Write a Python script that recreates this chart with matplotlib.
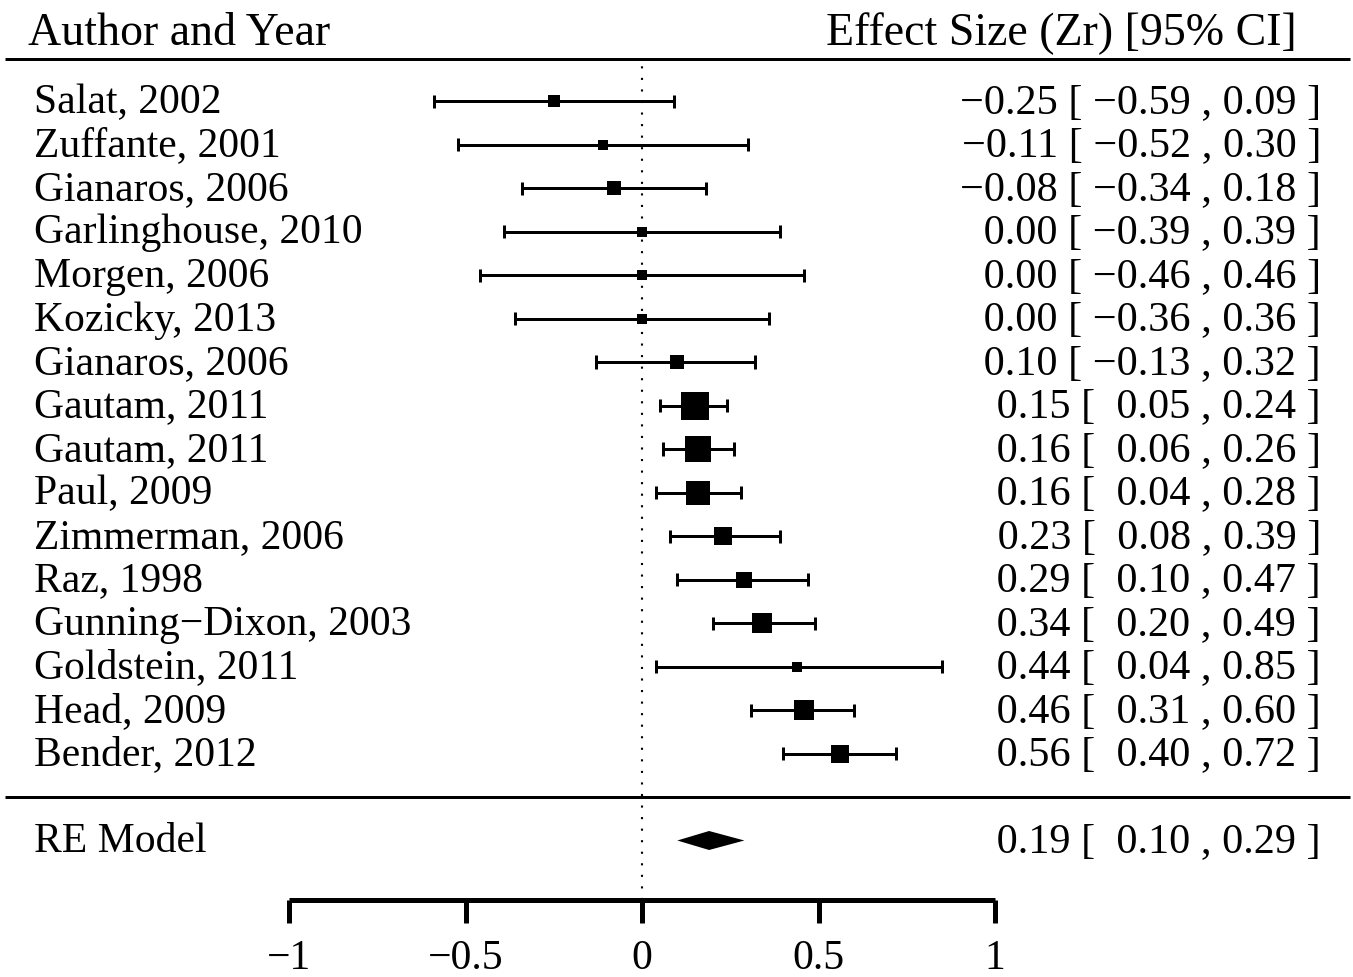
import matplotlib
matplotlib.use("Agg")
import matplotlib.pyplot as plt
import numpy as np

# ---------------- data ----------------
authors = ["Salat, 2002", "Zuffante, 2001", "Gianaros, 2006", "Garlinghouse, 2010",
           "Morgen, 2006", "Kozicky, 2013", "Gianaros, 2006", "Gautam, 2011",
           "Gautam, 2011", "Paul, 2009", "Zimmerman, 2006", "Raz, 1998",
           "Gunning\u2212Dixon, 2003", "Goldstein, 2011", "Head, 2009", "Bender, 2012"]
est = [-0.25, -0.11, -0.08, 0.00, 0.00, 0.00, 0.10, 0.15, 0.16, 0.16, 0.23, 0.29, 0.34, 0.44, 0.46, 0.56]
lower = [-0.59, -0.52, -0.34, -0.39, -0.46, -0.36, -0.13, 0.05, 0.06, 0.04, 0.08, 0.10, 0.20, 0.04, 0.31, 0.40]
upper = [0.09, 0.30, 0.18, 0.39, 0.46, 0.36, 0.32, 0.24, 0.26, 0.28, 0.39, 0.47, 0.49, 0.85, 0.60, 0.72]
re_label = "RE Model"
re_est, re_lower, re_upper = 0.19, 0.10, 0.29
xticks = [-1, -0.5, 0, 0.5, 1]
xticklabels = ["\u22121", "\u22120.5", "0", "0.5", "1"]
header_left = "Author and Year"
header_right = "Effect Size (Zr) [95% CI]"

# ---------------- layout ----------------
W, H = 1353, 977
fig = plt.figure(figsize=(W / 100, H / 100), dpi=100)
ax = fig.add_axes([0, 0, 1, 1])
FONT = "Liberation Serif"
FS = 30

X0PX, XS = 642.0, 353.0      # pixel of x=0, pixels per unit
R0PX, RS = 101.0, 43.5       # pixel of top study row, pixels per row
k = len(authors)
ax.set_xlim(-X0PX / XS, (W - X0PX) / XS)
ax.set_ylim(k - (H - R0PX) / RS, k + R0PX / RS)


def xp(p):  # pixel x -> data x
    return (p - X0PX) / XS


def yp(p):  # pixel y -> data row
    return k - (p - R0PX) / RS


PT = 0.72  # points per pixel
rows = np.arange(k, 0, -1)
base_off = 12.0 / RS  # baseline offset in rows

# horizontal rules
ax.plot([xp(5), xp(1350)], [yp(59), yp(59)], color="black", lw=3 * PT, solid_capstyle="butt")
ax.plot([xp(5), xp(1350)], [0, 0], color="black", lw=3 * PT, solid_capstyle="butt")

# reference dotted line
axis_row = yp(900)
ax.plot([0, 0], [axis_row, yp(61)], color="black", lw=2.1 * PT,
        linestyle=(0, (1, 4.5)), dash_capstyle="butt")

# CIs and boxes
lo = np.array(lower)
hi = np.array(upper)
se = (hi - lo) / (2 * 1.96)
w = 1 / se
box_px = 9.5 + (w - w.min()) / (w.max() - w.min()) * (28 - 9.5)
cap = 6.5 / RS
for r, e, l, u, b in zip(rows, est, lower, upper, box_px):
    ax.plot([l, u], [r, r], color="black", lw=3 * PT, solid_capstyle="butt")
    ax.plot([l, l], [r - cap, r + cap], color="black", lw=3 * PT, solid_capstyle="butt")
    ax.plot([u, u], [r - cap, r + cap], color="black", lw=3 * PT, solid_capstyle="butt")
    ax.plot([e], [r], marker="s", markersize=b * PT, color="black", mew=0)

# RE diamond
dh = 9.5 / RS
ax.fill([re_lower, re_est, re_upper, re_est], [-1, -1 + dh, -1, -1 - dh],
        color="black", lw=0)


def fmt(v, width):
    s = f"{v:.2f}".replace("-", "\u2212")
    return " " * (width - len(s)) + s


txt = dict(fontfamily=FONT, fontsize=FS, va="baseline", color="black")

# headers
ax.text(xp(28), yp(45), header_left, ha="left", **dict(txt, fontsize=FS + 3))
ax.text(xp(1297), yp(45), header_right, ha="right", **dict(txt, fontsize=FS + 3))

# study rows
all_rows = list(rows) + [-1]
all_labels = authors + [re_label]
all_est = est + [re_est]
all_lo = lower + [re_lower]
all_hi = upper + [re_upper]
for r, lab, e, l, u in zip(all_rows, all_labels, all_est, all_lo, all_hi):
    y = r - base_off
    ax.text(xp(34), y, lab, ha="left", **txt)
    s = f"{fmt(e, 5)} [ {fmt(l, 5)} , {fmt(u, 4)} ]"
    ax.text(xp(1321), y, s, ha="right", **dict(txt, fontsize=FS + 0.4))

# x axis using spines
for s in ["top", "right", "left"]:
    ax.spines[s].set_visible(False)
ax.spines["bottom"].set_position(("data", axis_row))
ax.spines["bottom"].set_bounds(-1, 1)
ax.spines["bottom"].set_linewidth(5 * PT)
ax.spines["bottom"].set_capstyle("butt")
ax.set_yticks([])
ax.set_xticks(xticks)
ax.set_xticklabels(xticklabels, fontfamily=FONT, fontsize=FS)
ax.tick_params(axis="x", direction="out", length=23 * PT, width=5 * PT, pad=12)

fig.savefig("out.png", dpi=100)
